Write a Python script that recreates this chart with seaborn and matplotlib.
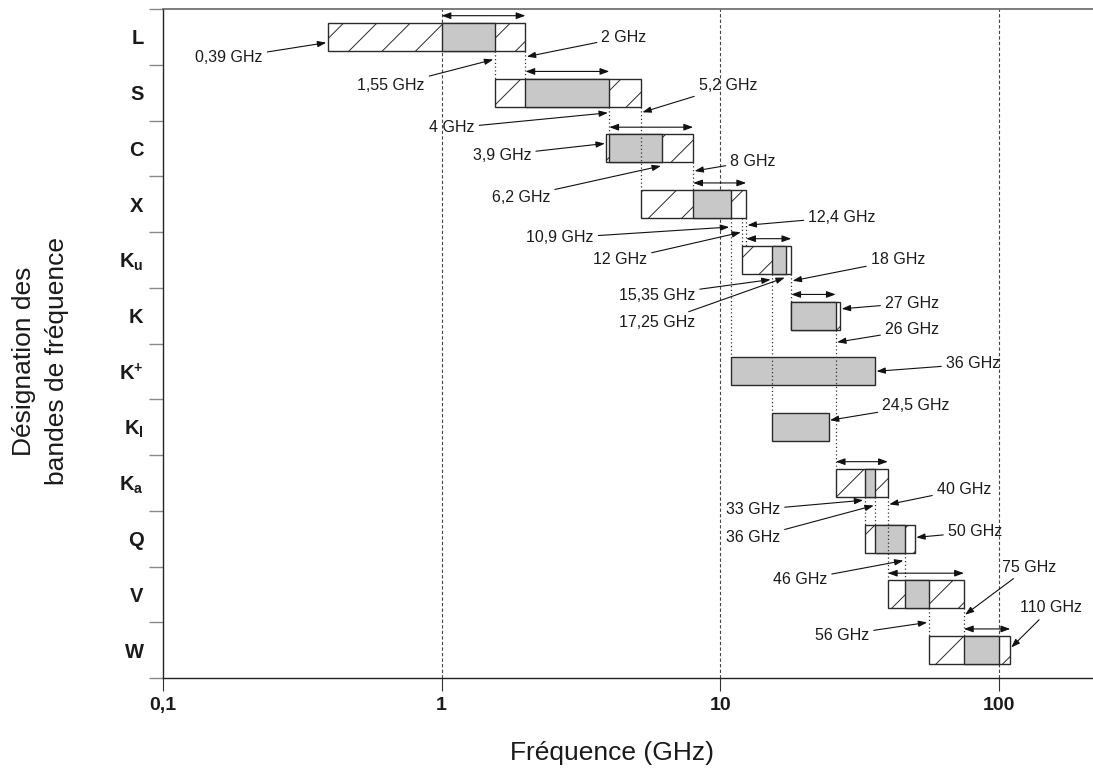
import numpy as np
import matplotlib
matplotlib.use('Agg')
import matplotlib.pyplot as plt
import seaborn as sns
from matplotlib.ticker import NullLocator

sns.set_style('white')
plt.rcParams['font.family'] = ['Liberation Sans', 'DejaVu Sans']
plt.rcParams['mathtext.fontset'] = 'custom'
plt.rcParams['mathtext.rm'] = 'Liberation Sans'
plt.rcParams['mathtext.bf'] = 'Liberation Sans:bold'
plt.rcParams['hatch.linewidth'] = 0.7
plt.rcParams['hatch.color'] = '#222222'

# --- DATA (GHz) ---
bands = ['L', 'S', 'C', 'X', r'$\mathbf{K}_{\mathbf{u}}$', 'K', r'$\mathbf{K}^{\mathbf{+}}$',
         r'$\mathbf{K}_{\mathbf{l}}$', r'$\mathbf{K}_{\mathbf{a}}$', 'Q', 'V', 'W']
nan = np.nan
# full band (hatched box)
box_lo = np.array([0.39, 1.55, 3.9, 5.2, 12, 18, nan, nan, 26, 33, 40, 56])
box_hi = np.array([2, 5.2, 8, 12.4, 18, 27, nan, nan, 40, 50, 75, 110])
# grey part
grey_lo = np.array([1, 2, 4, 8, 15.35, 18, 10.9, 15.35, 33, 36, 46, 75])
grey_hi = np.array([1.55, 4, 6.2, 10.9, 17.25, 26, 36, 24.5, 36, 46, 56, 100])
# double arrow span
span_lo = np.array([1, 2, 4, 8, 12.4, 18, nan, nan, 26, nan, 40, 75])
span_hi = np.array([2, 4, 8, 12.4, 18, 26, nan, nan, 40, nan, 75, 110])

# dotted links between bands: frequency, from band index, to band index
link_freq = [1.55, 2, 4, 5.2, 8, 10.9, 12, 12.4, 15.35, 18, 26, 33, 36, 40, 46, 56, 75]
link_from = [0, 0, 1, 1, 2, 3, 3, 3, 4, 4, 5, 8, 8, 8, 9, 10, 10]
link_to = [1, 1, 2, 3, 3, 6, 4, 4, 7, 5, 8, 9, 9, 10, 10, 11, 11]

label_text = ['0,39 GHz', '2 GHz', '1,55 GHz', '5,2 GHz', '4 GHz', '3,9 GHz', '8 GHz',
              '6,2 GHz', '12,4 GHz', '10,9 GHz', '12 GHz', '18 GHz', '15,35 GHz',
              '17,25 GHz', '27 GHz', '26 GHz', '36 GHz', '24,5 GHz', '40 GHz', '33 GHz',
              '36 GHz', '50 GHz', '46 GHz', '75 GHz', '56 GHz', '110 GHz']
label_freq = [0.39, 2, 1.55, 5.2, 4, 3.9, 8, 6.2, 12.4, 10.9, 12, 18, 15.35, 17.25,
              27, 26, 36, 24.5, 40, 33, 36, 50, 46, 75, 56, 110]

freq_ticks = [0.1, 1, 10, 100]
freq_ticklabels = ['0,1', '1', '10', '100']

# --- LAYOUT ---
# arrow tip heights (band units) and label centres (pixels in the 1093x772 image)
label_tip_row = [0.10, 0.36, 0.40, 1.36, 1.36, 1.91, 2.41, 2.31, 3.38, 3.41, 3.50, 4.38,
                 4.35, 4.31, 4.88, 5.48, 6.00, 6.88, 8.39, 8.31, 8.40, 8.98, 9.39, 10.38,
                 10.50, 10.97]
label_pos_px = [(229, 58), (624, 37), (391, 86), (728, 86), (452, 128), (502, 155),
                (753, 161), (521, 197), (842, 217), (560, 238), (620, 260), (898, 260),
                (657, 295), (657, 323), (912, 303), (912, 330), (973, 364), (916, 406),
                (964, 489), (753, 510), (753, 538), (975, 532), (800, 580), (1029, 567),
                (842, 635), (1051, 608)]

W, H = 1093, 772
fig = plt.figure(figsize=(W / 100, H / 100), dpi=100)
ax = fig.add_axes([163 / W, 94 / H, 930 / W, 669 / H])

rows = np.arange(len(bands))
bar_h = 0.5
edge = '#2a2a2a'

# decade grid lines
for v in freq_ticks[1:]:
    ax.axvline(v, color='#444444', lw=0.8, ls=(0, (3, 2)), zorder=1)

# hatched full bands
m = ~np.isnan(box_lo)
ax.barh(rows[m], box_hi[m] - box_lo[m], left=box_lo[m], height=bar_h,
        facecolor='white', edgecolor=edge, hatch='/', linewidth=1.0, zorder=2)
# grey sub-bands
ax.barh(rows, grey_hi - grey_lo, left=grey_lo, height=bar_h,
        facecolor='#c8c8c8', edgecolor=edge, linewidth=1.0, zorder=3)

# dotted links
ax.vlines(link_freq, np.array(link_from) + bar_h / 2, np.array(link_to) - bar_h / 2,
          colors='#333333', linestyles=(0, (1, 2)), lw=0.9, zorder=4)

# double arrows above bands
for r, lo, hi in zip(rows, span_lo, span_hi):
    if np.isnan(lo):
        continue
    ax.annotate('', xy=(hi, r - 0.38), xytext=(lo, r - 0.38),
                arrowprops=dict(arrowstyle='<|-|>,head_length=0.55,head_width=0.2',
                                color='#111111', lw=0.8, shrinkA=0, shrinkB=0), zorder=5)

# frequency labels
for txt, f, tr, (px, py) in zip(label_text, label_freq, label_tip_row, label_pos_px):
    ax.annotate(txt, xy=(f, tr), xytext=(px / W, 1 - py / H), textcoords='figure fraction',
                ha='center', va='center', fontsize=11.5, color='#1a1a1a',
                arrowprops=dict(arrowstyle='-|>,head_length=0.45,head_width=0.16',
                                color='#111111', lw=0.8, shrinkA=1, shrinkB=1), zorder=5)

# axes
ax.set_xscale('log')
ax.set_xlim(0.1, 218)
ax.set_ylim(len(bands) - 0.5, -0.5)
ax.set_xticks(freq_ticks)
ax.set_xticklabels(freq_ticklabels, fontsize=14, fontweight='bold', color='#1a1a1a')
ax.xaxis.set_minor_locator(NullLocator())
ax.set_yticks(rows)
ax.set_yticklabels(bands, fontsize=14.5, fontweight='bold', color='#1a1a1a')
ax.set_yticks(np.arange(-0.5, len(bands), 1), minor=True)
ax.tick_params(axis='x', which='major', bottom=True, direction='out', length=9,
               width=0.8, color='#333333', pad=5)
ax.tick_params(axis='y', which='major', left=True, length=0, pad=14)
ax.tick_params(axis='y', which='minor', left=True, direction='out', length=10,
               width=1.0, color='#888888')

sns.despine(ax=ax, top=False, right=True)
ax.spines['top'].set_color('#666666')
ax.spines['top'].set_linewidth(1.2)
for s in ['left', 'bottom']:
    ax.spines[s].set_color('#222222')
    ax.spines[s].set_linewidth(1.0)

ax.set_xlabel('Fréquence (GHz)', fontsize=19, color='#1a1a1a')
ax.xaxis.label.set_va('center')
ax.xaxis.set_label_coords(0.483, -0.112)
ax.set_ylabel('Désignation des\nbandes de fréquence', fontsize=19, color='#1a1a1a',
              multialignment='center', linespacing=1.45)
ax.yaxis.label.set_va('center')
ax.yaxis.set_label_coords(-0.132, 0.474)

fig.savefig('out.png', dpi=100)
